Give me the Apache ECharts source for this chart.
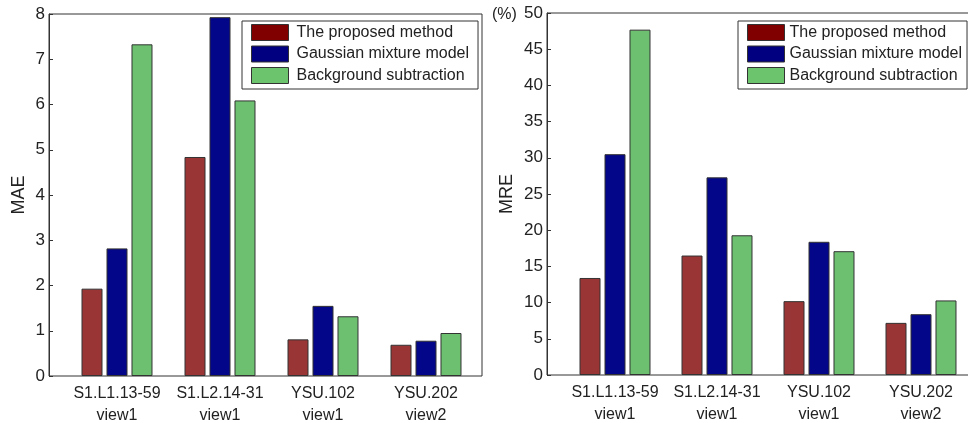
<!DOCTYPE html>
<html>
<head>
<meta charset="utf-8">
<script src="https://cdn.jsdelivr.net/npm/echarts@6/dist/echarts.min.js"></script>
<style>html,body{margin:0;padding:0;background:#fff;}#c{width:968px;height:423px;}</style>
</head>
<body>
<div id="c"></div>
<script>
const categories = ['S1.L1.13-59\nview1', 'S1.L2.14-31\nview1', 'YSU.102\nview1', 'YSU.202\nview2'];
const seriesNames = ['The proposed method', 'Gaussian mixture model', 'Background subtraction'];
const maeProposed = [1.93, 4.84, 0.81, 0.69];
const maeGMM = [2.82, 7.93, 1.55, 0.78];
const maeBG = [7.33, 6.09, 1.32, 0.95];
const mreProposed = [13.4, 16.5, 10.2, 7.2];
const mreGMM = [30.5, 27.3, 18.4, 8.4];
const mreBG = [47.7, 19.3, 17.1, 10.3];
const maeTicks = [0, 1, 2, 3, 4, 5, 6, 7, 8];
const mreTicks = [0, 5, 10, 15, 20, 25, 30, 35, 40, 45, 50];

const FONT = 'Liberation Sans, Arial, Helvetica, sans-serif';
const barColors = ['#9a3535', '#04068a', '#6cc070'];
const legendColors = ['#800000', '#000080', '#6cc46c'];
const TXT = '#222';

const chart = echarts.init(document.getElementById('c'), null, {renderer: 'canvas'});

function frameY(idx, ticks, name, nameGap) {
  return {
    type: 'value', gridIndex: idx, min: ticks[0], max: ticks[ticks.length - 1],
    interval: ticks[1] - ticks[0],
    axisLine: {show: true, lineStyle: {color: '#333', width: 1}},
    axisTick: {show: true, inside: true, length: 4, lineStyle: {color: '#333'}},
    splitLine: {show: false},
    axisLabel: {color: TXT, fontSize: 17, fontFamily: FONT, margin: 4},
    name: name, nameLocation: 'middle', nameGap: nameGap, nameRotate: 90,
    nameTextStyle: {color: TXT, fontSize: 18, fontFamily: FONT}
  };
}
function hiddenY(idx, ticks) {
  return {type: 'value', gridIndex: idx, min: ticks[0], max: ticks[ticks.length - 1], show: false, splitLine: {show: false}};
}
function frameX(idx) {
  return {type: 'value', gridIndex: idx, min: 0, max: 1, show: false, splitLine: {show: false}};
}
function barX(idx) {
  return {
    type: 'category', gridIndex: idx, data: categories,
    axisLine: {show: false}, axisTick: {show: false},
    axisLabel: {color: TXT, fontSize: 16, fontFamily: FONT, margin: 7, lineHeight: 22, interval: 0}
  };
}
function bars(xi, yi, vals) {
  return vals.map((v, i) => ({
    type: 'bar', name: seriesNames[i], xAxisIndex: xi, yAxisIndex: yi, data: v,
    barWidth: 21, barGap: '19%',
    itemStyle: {color: barColors[i], borderColor: '#333', borderWidth: 1},
    emphasis: {disabled: true}, animation: false
  }));
}
function legend(left, textGap, padRight) {
  return {
    left: left, top: 21, orient: 'vertical',
    itemWidth: 37, itemHeight: 16, itemGap: 4.5,
    padding: [3, padRight, 5, 9],
    borderColor: '#333', borderWidth: 1, backgroundColor: '#fff',
    textStyle: {color: TXT, fontSize: 16, fontFamily: FONT, lineHeight: 16, padding: [0, 0, 0, textGap]},
    selectedMode: false,
    data: seriesNames.map((n, i) => ({name: n, icon: 'rect', itemStyle: {color: legendColors[i], borderColor: '#333', borderWidth: 1}}))
  };
}

const gridCommon = {outerBoundsMode: 'none', containLabel: false};
chart.setOption({
  animation: false,
  backgroundColor: '#fff',
  grid: [
    Object.assign({left: 49, top: 14, width: 433, height: 362, show: true, borderColor: '#333', borderWidth: 1, backgroundColor: 'transparent'}, gridCommon),
    Object.assign({left: 65.5, top: 14, width: 412, height: 362}, gridCommon),
    Object.assign({left: 547, top: 13, width: 450, height: 362, show: true, borderColor: '#333', borderWidth: 1, backgroundColor: 'transparent'}, gridCommon),
    Object.assign({left: 564, top: 13, width: 408, height: 362}, gridCommon)
  ],
  xAxis: [frameX(0), barX(1), frameX(2), barX(3)],
  yAxis: [frameY(0, maeTicks, 'MAE', 21), hiddenY(1, maeTicks), frameY(2, mreTicks, 'MRE', 31), hiddenY(3, mreTicks)],
  legend: [legend(242, 3, 9), legend(738, 0, 5)],
  graphic: [
    {type: 'text', left: 492, top: 7, style: {text: '(%)', fill: TXT, fontSize: 16, fontFamily: FONT}}
  ],
  series: [].concat(
    bars(1, 1, [maeProposed, maeGMM, maeBG]),
    bars(3, 3, [mreProposed, mreGMM, mreBG])
  )
});
</script>
</body>
</html>
